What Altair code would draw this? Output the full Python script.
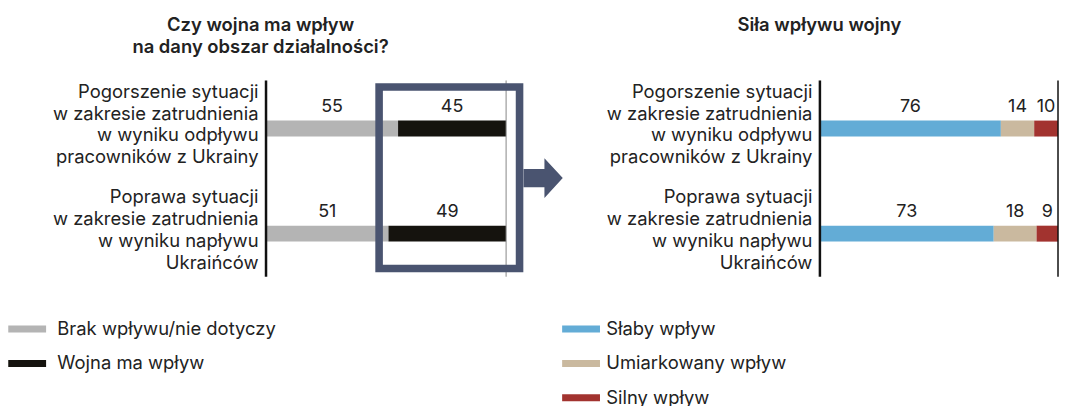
import altair as alt
import pandas as pd

FONT = "Inter"
TXT = "#222222"
FS = 18.5

categories = [
    "Pogorszenie sytuacji|w zakresie zatrudnienia|w wyniku odpływu|pracowników z Ukrainy",
    "Poprawa sytuacji|w zakresie zatrudnienia|w wyniku napływu|Ukraińców",
]

left_series = ["Brak wpływu/nie dotyczy", "Wojna ma wpływ"]
left_brak = [55, 51]
left_wojna = [45, 49]
left_colors = ["#b4b4b4", "#15130e"]

right_series = ["Słaby wpływ", "Umiarkowany wpływ", "Silny wpływ"]
right_slaby = [76, 73]
right_umiark = [14, 18]
right_silny = [10, 9]
right_colors = ["#63acd6", "#cab99f", "#a2332f"]

BOX = "#4a5470"


def make_df(series, values):
    rows = []
    for si, (s, vals) in enumerate(zip(series, values)):
        for c, v in zip(categories, vals):
            rows.append({"cat": c, "series": s, "value": v, "order": si})
    return pd.DataFrame(rows)


left_df = make_df(left_series, [left_brak, left_wojna])
right_df = make_df(right_series, [right_slaby, right_umiark, right_silny])
one = pd.DataFrame({"k": [0]})

H = 197


def panel(df, series, colors, width, title, title_dx, title_offset, leg_x, leg_off, edge_color, edge_width):
    yaxis = alt.Axis(
        labelExpr="split(datum.label, '|')",
        labelLineHeight=22,
        labelFontSize=FS,
        labelFont=FONT,
        labelColor=TXT,
        labelPadding=8,
        labelLimit=400,
        labelAlign="right",
        labelBaseline="middle",
        labelOffset=-37,
        ticks=False,
        grid=False,
        domain=False,
        title=None,
    )
    ysc = alt.Scale(domain=categories, range=[-4.5, 206.5], paddingInner=0, paddingOuter=0)
    y = alt.Y("cat:N", sort=categories, scale=ysc, axis=yaxis)
    xs = alt.Scale(domain=[0, 100], nice=False, zero=True)
    base = alt.Chart(df).transform_stack(
        stack="value", groupby=["cat"], as_=["x0", "x1"], sort=[alt.SortField("order")]
    )
    legend = alt.Legend(
        title=None,
        orient="none",
        legendX=leg_x,
        legendY=240,
        direction="vertical",
        symbolType="M-1,-0.378L3.108,-0.378L3.108,0.378L-1,0.378Z",
        symbolSize=342,
        symbolStrokeWidth=0,
        symbolOpacity=1,
        labelFontSize=FS,
        labelFont=FONT,
        labelColor=TXT,
        labelOffset=leg_off,
        rowPadding=15.5,
        labelLimit=400,
    )
    bars = base.mark_bar(size=16, opacity=1).encode(
        x=alt.X("x0:Q", scale=xs, axis=None),
        x2="x1:Q",
        y=y,
        color=alt.Color("series:N", scale=alt.Scale(domain=series, range=colors), legend=legend),
    )
    labels = base.transform_calculate(mid="(datum.x0 + datum.x1) / 2").mark_text(
        dy=-22, fontSize=18, font=FONT, color=TXT, baseline="middle"
    ).encode(x=alt.X("mid:Q", scale=xs, axis=None), y=y, text="value:Q")
    axis_line = alt.Chart(one).mark_rule(color="#111111", strokeWidth=2.5).encode(
        x=alt.datum(0), y=alt.value(0), y2=alt.value(H)
    )
    edge = alt.Chart(one).mark_rule(color=edge_color, strokeWidth=edge_width).encode(
        x=alt.datum(100), y=alt.value(0), y2=alt.value(H)
    )
    ch = alt.layer(bars, labels, axis_line, edge).properties(
        width=width,
        height=H,
        title=alt.Title(
            title,
            font=FONT,
            fontSize=FS,
            fontWeight=600,
            color=TXT,
            anchor="middle",
            frame="group",
            dx=title_dx,
            offset=title_offset,
            lineHeight=22,
        ),
    )
    return ch


left = panel(left_df, left_series, left_colors, 241,
             ["Czy wojna ma wpływ", "na dany obszar działalności?"],
             -126, 23, -259, 30.5, "#888888", 1)

box = alt.Chart(one).mark_rect(fill=None, stroke=BOX, strokeWidth=7.6).encode(
    x=alt.datum(47.1), x2=alt.datum(105.6), y=alt.value(6.5), y2=alt.value(188.8)
)
arrow = alt.Chart(one).mark_point(
    shape="M-0.97,-0.46L0.08,-0.46L0.08,-1L1,0L0.08,1L0.08,0.46L-0.97,0.46Z",
    size=1600, filled=True, color=BOX, opacity=1, strokeWidth=0,
).encode(x=alt.datum(115.3), y=alt.value(98))

left = alt.layer(left, box, arrow)

right = panel(right_df, right_series, right_colors, 239,
              "Siła wpływu wojny", -120, 45, -259, 25.5, "#111111", 1.5)

chart = alt.hconcat(left, right, spacing=315, bounds="flush").resolve_scale(
    color="independent", x="independent", y="independent"
).configure_view(stroke=None).properties(
    padding={"top": 7, "left": 0, "right": 0, "bottom": 0}
)

chart.save("out.html", embed_options={"renderer": "svg", "actions": False})
